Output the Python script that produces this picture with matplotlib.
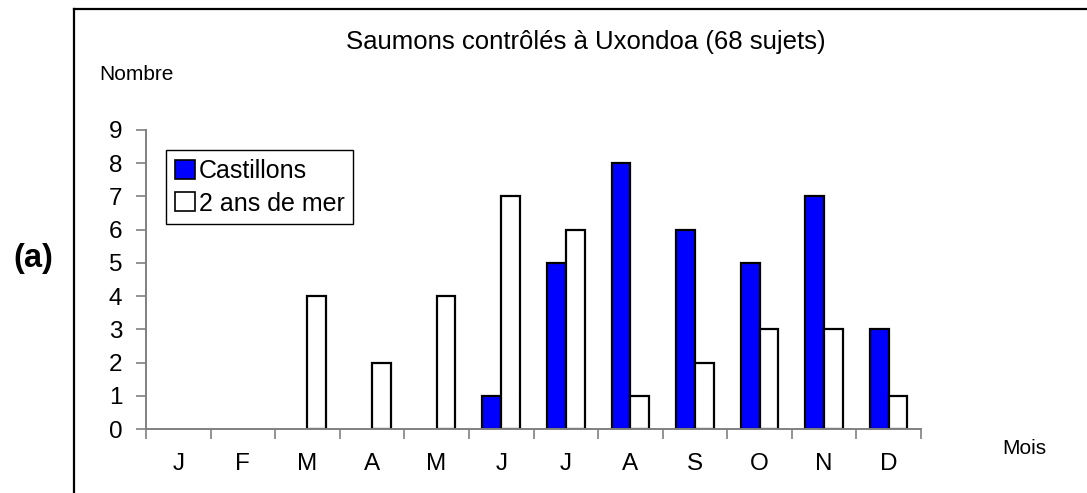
import numpy as np
import matplotlib
matplotlib.use("Agg")
import matplotlib.pyplot as plt
from matplotlib.lines import Line2D

plt.rcParams['font.family'] = ['Liberation Sans', 'DejaVu Sans']

mois = ['J', 'F', 'M', 'A', 'M', 'J', 'J', 'A', 'S', 'O', 'N', 'D']
castillons = [0, 0, 0, 0, 0, 1, 5, 8, 6, 5, 7, 3]
deux_ans = [0, 0, 4, 2, 4, 7, 6, 1, 2, 3, 3, 1]

W, H = 1087, 493
fig = plt.figure(figsize=(W / 100, H / 100), dpi=100)
ax = fig.add_axes([146 / W, 1 - 429 / H, (921 - 146) / W, (429 - 130) / H])

x = np.arange(len(mois))
w = 0.29
# pas de contour pour les barres nulles
ec1 = ['black' if v > 0 else 'none' for v in castillons]
ec2 = ['black' if v > 0 else 'none' for v in deux_ans]
ax.bar(x - w / 2, castillons, w, color='#0000ff', edgecolor=ec1, linewidth=1.6, label='Castillons')
ax.bar(x + w / 2, deux_ans, w, color='white', edgecolor=ec2, linewidth=1.6, label='2 ans de mer')

ax.set_xlim(-0.5, 11.5)
ax.set_ylim(0, 9)
ax.set_yticks(range(10))
ax.set_xticks(np.arange(13) - 0.5)
ax.set_xticklabels([])
ax.set_xticks(x, minor=True)
ax.set_xticklabels(mois, minor=True)
ax.tick_params(axis='x', which='major', length=7, width=1.2, color='#808080', direction='out')
ax.tick_params(axis='x', which='minor', length=0, pad=17, labelsize=17.5)
ax.tick_params(axis='y', length=7, width=1.2, color='#808080', pad=10, labelsize=17.5)

for s in ['top', 'right']:
    ax.spines[s].set_visible(False)
for s in ['left', 'bottom']:
    ax.spines[s].set_color('#808080')
    ax.spines[s].set_linewidth(1.4)

leg = ax.legend(loc='upper left', bbox_to_anchor=(0.026, 0.933), fontsize=18,
                frameon=True, fancybox=False, framealpha=1, edgecolor='black',
                handlelength=0.8, handleheight=0.8, handletextpad=0.15,
                labelspacing=0.35, borderpad=0.35, borderaxespad=0)
leg.get_frame().set_linewidth(1)
for h in leg.legend_handles:
    h.set_edgecolor('black')
    h.set_linewidth(1.2)

fig.text(586 / W, 1 - 42 / H, 'Saumons contrôlés à Uxondoa (68 sujets)',
         ha='center', va='center', fontsize=18.5)
fig.text(99 / W, 1 - 75 / H, 'Nombre', ha='left', va='center', fontsize=15)
fig.text(1002 / W, 1 - 449 / H, 'Mois', ha='left', va='center', fontsize=15)
fig.text(33 / W, 1 - 258 / H, '(a)', ha='center', va='center', fontsize=23.5, fontweight='bold')

# cadre extérieur (seuls les bords haut et gauche sont visibles)
fig.add_artist(Line2D([74 / W, 1.01], [1 - 9 / H, 1 - 9 / H], color='black', linewidth=1.6))
fig.add_artist(Line2D([74 / W, 74 / W], [1 - 9 / H, -0.01], color='black', linewidth=1.6))

fig.savefig('out.png', dpi=100)
